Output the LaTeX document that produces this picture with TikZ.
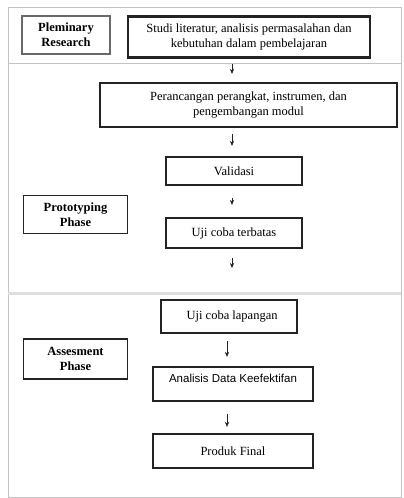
\documentclass[tikz,border=0pt]{standalone}
\usepackage{fontspec}
\setmainfont{Liberation Serif}
\setsansfont{Liberation Sans}
\usetikzlibrary{arrows.meta,positioning}
\definecolor{ink}{RGB}{35,35,35}
\definecolor{slate}{RGB}{105,105,105}
\definecolor{rule}{RGB}{195,195,195}
\definecolor{band}{RGB}{222,222,222}
\tikzset{
  >={Stealth[length=1.8mm,width=1.5mm]},
  box/.style={draw=ink,line width=2.2pt,align=center,inner sep=1pt,
    font=\fontsize{12.5}{15.5}\selectfont},
  phase/.style={draw=#1,line width=1.7pt,align=center,inner sep=1pt,
    minimum width=104pt,minimum height=38pt,font=\fontsize{12.5}{15}\selectfont\bfseries},
  phase/.default=ink,
  flow/.style={->,line width=0.6pt,draw=ink},
}
\begin{document}
\begin{tikzpicture}[x=1pt,y=-1pt]
  \useasboundingbox (0,0) rectangle (404,498);
  % frame and panels
  \draw[rule,line width=0.8pt] (8,7) rectangle (401,497);
  \draw[rule,line width=0.8pt] (8,63) -- (401,63);
  \draw[band,line width=3pt] (8,293) -- (401,293);
  % phases
  \node[phase=slate,minimum width=88pt] (plem) at (66,35) {Pleminary\\Research};
  \node[phase] (proto) at (75.5,214.5) {Prototyping\\Phase};
  \node[phase,minimum height=40pt] (assess) at (75.5,359) {Assesment\\Phase};
  % steps
  \node[box,minimum width=242pt,minimum height=41pt] (studi) at (249,37)
    {Studi literatur, analisis permasalahan dan\\kebutuhan dalam pembelajaran};
  \node[box,minimum width=297pt,minimum height=44pt] (rancang) at (248.5,105)
    {Perancangan perangkat, instrumen, dan\\pengembangan modul};
  \node[box,minimum width=136pt,minimum height=28pt] (valid) at (234,171) {Validasi};
  \node[box,minimum width=136pt,minimum height=30pt] (terbatas) at (234,233) {Uji coba terbatas};
  \node[box,minimum width=136pt,minimum height=33pt] (lapangan) at (229,316.5) {\ \ Uji coba lapangan};
  \node[box,minimum width=160pt,minimum height=34pt,font=\sffamily\fontsize{11.5}{10}\selectfont] (analisis) at (233,384)
    {Analisis Data Keefektifan\\[2pt]};
  \node[box,minimum width=160pt,minimum height=34pt] (final) at (233,451) {Produk Final};
  \coordinate (tail) at (232,268);
  % connectors
  \draw[flow,shorten <=5pt,shorten >=8pt] (studi.south -| 232,0) -- (rancang.north -| 232,0);
  \draw[flow,shorten <=6pt,shorten >=10pt] (rancang.south -| 232,0) -- (valid.north -| 232,0);
  \draw[flow,shorten <=12pt,shorten >=12pt] (valid.south -| 232,0) -- (terbatas.north -| 232,0);
  \draw[flow,shorten <=9pt] (terbatas.south -| tail) -- (tail);
  \draw[flow,shorten <=7pt,shorten >=9pt] (lapangan.south -| 227,0) -- (analisis.north -| 227,0);
  \draw[flow,shorten <=12pt,shorten >=6pt] (analisis.south -| 227,0) -- (final.north -| 227,0);
\end{tikzpicture}
\end{document}
